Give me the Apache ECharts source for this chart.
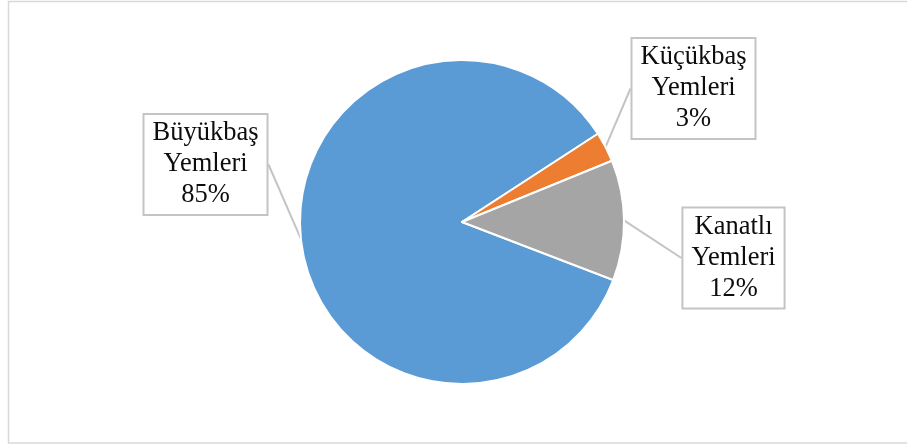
<!DOCTYPE html>
<html>
<head>
<meta charset="utf-8">
<script src="https://cdn.jsdelivr.net/npm/echarts@6/dist/echarts.min.js"></script>
<style>
html,body{margin:0;padding:0;background:#fff;}
#chart{width:907px;height:446px;}
</style>
</head>
<body>
<div id="chart"></div>
<script>
const categories = ['Büyükbaş Yemleri', 'Küçükbaş Yemleri', 'Kanatlı Yemleri'];
const values = [85, 3, 12];
const colors = ['#5b9bd5', '#ed7d31', '#a5a5a5'];
const labelCenters = [[205.5, 164.5], [693.5, 88.5], [733.5, 258]];

const chart = echarts.init(document.getElementById('chart'));
chart.setOption({
  backgroundColor: '#ffffff',
  animation: false,
  graphic: [{
    type: 'rect',
    shape: { x: 8.5, y: 1.5, width: 910, height: 441.5 },
    style: { fill: 'none', stroke: '#d9d9d9', lineWidth: 1.5 },
    silent: true
  }],
  series: [{
    type: 'pie',
    center: [462, 222],
    radius: ['0%', 162],
    startAngle: -21,
    clockwise: true,
    avoidLabelOverlap: false,
    itemStyle: { borderColor: '#ffffff', borderWidth: 2 },
    label: {
      show: true,
      position: 'outside',
      formatter: function (p) { return p.name.replace(' ', '\n') + '\n' + p.percent + '%'; },
      fontFamily: 'Liberation Serif',
      fontSize: 26.5,
      lineHeight: 31,
      color: '#0d0d0d',
      align: 'center',
      backgroundColor: '#ffffff',
      borderColor: '#c4c4c4',
      borderWidth: 2,
      padding: [4, 8, 2, 8]
    },
    labelLine: {
      show: true,
      length: 8,
      length2: 0,
      lineStyle: { color: '#c4c4c4', width: 2 }
    },
    labelLayout: function (params) {
      const c = labelCenters[params.dataIndex];
      return { x: c[0], y: c[1], align: 'center', verticalAlign: 'middle' };
    },
    data: categories.map(function (n, i) {
      return { name: n, value: values[i], itemStyle: { color: colors[i] } };
    })
  }]
});
</script>
</body>
</html>
